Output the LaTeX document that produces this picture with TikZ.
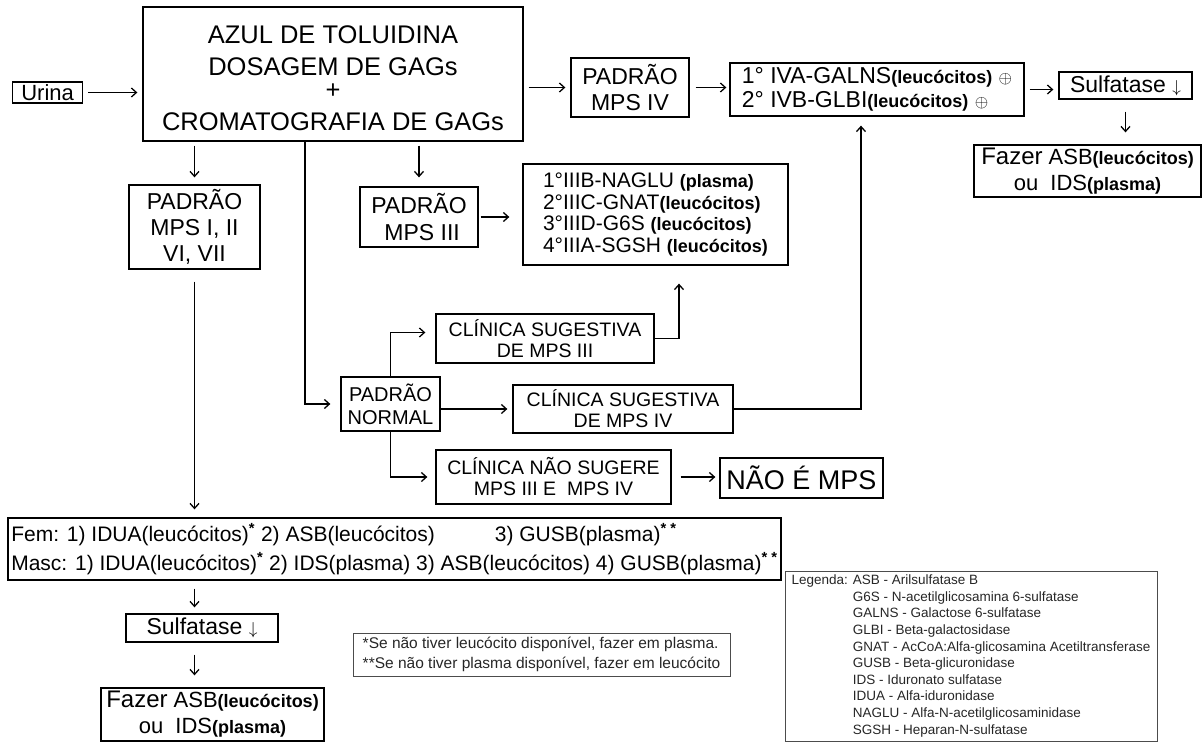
\documentclass[tikz,border=0pt]{standalone}
\usepackage{fontspec}
\setmainfont{Liberation Sans}
\usetikzlibrary{arrows.meta}

\newcommand{\amostra}[1]{{\fontsize{18}{21}\selectfont\bfseries #1}}
\newcommand{\tam}[2]{\fontsize{#1}{#2}\selectfont}
\newcommand{\desce}{{\tam{17}{20}$\downarrow$}}
\newcommand{\positivo}{{\tam{18}{20}$\oplus$}}

\begin{document}
\begin{tikzpicture}[x=1pt, y=-1pt, line width=1.3pt,
  >={Straight Barb[length=5pt,width=9pt]},
  caixa/.style={draw, inner sep=1pt, align=center},
  seta/.style={->, shorten <=5pt, shorten >=5pt},
  padrao/.style={caixa, font=\tam{23}{26}},
  clinica/.style={caixa, font=\tam{19.5}{21}},
  nota/.style={draw=black!70, line width=1pt, inner sep=2pt, text=black!85}]
\useasboundingbox (0,0) rectangle (1203,742);

\node[caixa, font=\tam{22}{24}, minimum width=70pt, minimum height=21pt] (urina) at (47.6,92.5) {Urina};
\node[caixa, font=\tam{25.5}{32}, minimum width=380pt, minimum height=134pt] (gags) at (333,74)
  {\rule{0pt}{27pt}AZUL DE TOLUIDINA\\DOSAGEM DE GAGs\\[-9pt]+\\[0pt]CROMATOGRAFIA DE GAGs};
\node[padrao, minimum width=118pt, minimum height=59pt] (mpsiv) at (630,87.5) {PADRÃO\\MPS IV};
\node[caixa, align=left, font=\tam{23}{24.5}, minimum width=294pt, minimum height=53pt] (iva) at (877,89.5)
  {1° IVA-GALNS\amostra{(leucócitos)} \positivo\\2° IVB-GLBI\amostra{(leucócitos)} \positivo};
\node[caixa, font=\tam{23}{25}, minimum width=133pt, minimum height=27pt] (sulf1) at (1125.5,85.5) {Sulfatase \desce};
\node[caixa, font=\tam{22}{26}, minimum width=227pt, minimum height=52pt] (fazer1) at (1087.5,171)
  {{\tam{24}{26}Fazer} ASB\amostra{(leucócitos)}\\ou\ \ IDS\amostra{(plasma)}};

\node[padrao, minimum width=131pt, minimum height=84pt] (mpsi) at (194.5,227) {PADRÃO\\MPS I, II\\VI, VII};
\node[padrao, font=\tam{23}{27}, minimum width=118pt, minimum height=60pt] (mpsiii) at (419,217) {PADRÃO\\\ MPS III};
\node[caixa, align=left, font=\tam{21}{21.7}, minimum width=265pt, minimum height=101pt] (iiib) at (655.5,214.5)
  {1°IIIB-NAGLU \amostra{(plasma)}\\2°IIIC-GNAT\amostra{(leucócitos)}\\3°IIID-G6S \amostra{(leucócitos)}\\4°IIIA-SGSH \amostra{(leucócitos)}};

\node[caixa, font=\tam{20}{23}, minimum width=99pt, minimum height=54pt] (normal) at (390.5,404) {PADRÃO\\NORMAL};
\node[clinica, minimum width=218pt, minimum height=49pt] (clin3) at (545,338.5) {CLÍNICA SUGESTIVA\\DE MPS III};
\node[clinica, minimum width=220pt, minimum height=48pt] (clin4) at (623,409) {CLÍNICA SUGESTIVA\\DE MPS IV};
\node[clinica, minimum width=235pt, minimum height=54pt] (clinnao) at (553.5,477) {CLÍNICA NÃO SUGERE\\MPS III E\ \ MPS IV};
\node[caixa, font=\tam{27}{30}, minimum width=163pt, minimum height=40pt] (naoe) at (801.5,478) {NÃO É MPS};

\node[caixa, align=left, font=\tam{21}{29}, minimum width=773pt, minimum height=62pt] (fem) at (394.5,549)
  {Fem: 1) IDUA(leucócitos)\textsuperscript{\bfseries*} 2) ASB(leucócitos)\hspace{60pt}3) GUSB(plasma)\textsuperscript{\bfseries* *}\\
   Masc: 1) IDUA(leucócitos)\textsuperscript{\bfseries*} 2) IDS(plasma)\ 3) ASB(leucócitos) 4) GUSB(plasma)\textsuperscript{\bfseries* *}};
\node[caixa, font=\tam{23}{25}, minimum width=152pt, minimum height=28pt] (sulf2) at (202,628) {Sulfatase \desce};
\node[caixa, font=\tam{22}{26}, minimum width=223pt, minimum height=53pt] (fazer2) at (212.5,714.5)
  {{\tam{24}{26}Fazer} ASB\amostra{(leucócitos)}\\ou\ \ IDS\amostra{(plasma)}};

\node[nota, align=left, font=\tam{15.5}{20}, minimum width=377pt, minimum height=43pt] (rodape) at (541.5,654.5)
  {*Se não tiver leucócito disponível, fazer em plasma.\\**Se não tiver plasma disponível, fazer em leucócito};
\node[nota, font=\tam{13.5}{16.6}, minimum width=372pt, minimum height=170pt] (legenda) at (971,656)
  {\begin{tabular}{@{}l@{ }l@{}}
   Legenda: & ASB - Arilsulfatase B\\
   & G6S - N-acetilglicosamina 6-sulfatase\\
   & GALNS - Galactose 6-sulfatase\\
   & GLBI - Beta-galactosidase\\
   & GNAT - AcCoA:Alfa-glicosamina Acetiltransferase\\
   & GUSB - Beta-glicuronidase\\
   & IDS - Iduronato sulfatase\\
   & IDUA - Alfa-iduronidase\\
   & NAGLU - Alfa-N-acetilglicosaminidase\\
   & SGSH - Heparan-N-sulfatase
   \end{tabular}};

\coordinate (ramo) at (305,0);
\draw[seta] (urina.east) -- (urina.east -| gags.west);
\draw[seta] (gags.east |- mpsiv) -- (mpsiv.west);
\draw[->, shorten <=6pt, shorten >=3pt] (mpsiv.east) -- (mpsiv.east -| iva.west);
\draw[seta] (iva.east) -- (iva.east -| sulf1.west);
\draw[->, shorten <=12pt, shorten >=12pt] (sulf1.south) -- (sulf1.south |- fazer1.north);
\draw[->, shorten <=4pt, shorten >=7pt] (gags.south -| mpsi) -- (mpsi.north);
\draw[->, shorten <=4pt, shorten >=9pt] (gags.south -| mpsiii) -- (mpsiii.north);
\draw[->, shorten >=10pt] (gags.south -| ramo) |- (normal.west);
\draw[->, shorten <=2pt, shorten >=13pt] (mpsiii.east) -- (mpsiii.east -| iiib.west);
\draw[->, shorten <=12pt, shorten >=8pt] (mpsi.south) -- (mpsi.south |- fem.north);
\draw[->, shorten >=10pt] (normal.north) |- ([yshift=6pt]clin3.west);
\draw[->, shorten >=5pt] (normal.east |- clin4.west) -- (clin4.west);
\draw[->, shorten >=8pt] (normal.south) |- (clinnao.west);
\draw[->, shorten >=18pt] (clin3.east) -| ([xshift=23.5pt]iiib.south);
\draw[->, shorten >=9pt] (clin4.east) -| ([xshift=-16pt]iva.south);
\draw[->, shorten <=9pt, shorten >=4pt] (clinnao.east) -- (clinnao.east -| naoe.west);
\draw[->, shorten <=8pt, shorten >=6pt] (fem.south -| mpsi) -- (sulf2.north -| mpsi);
\draw[->, shorten <=12pt, shorten >=12pt] (sulf2.south -| mpsi) -- (fazer2.north -| mpsi);
\end{tikzpicture}
\end{document}
